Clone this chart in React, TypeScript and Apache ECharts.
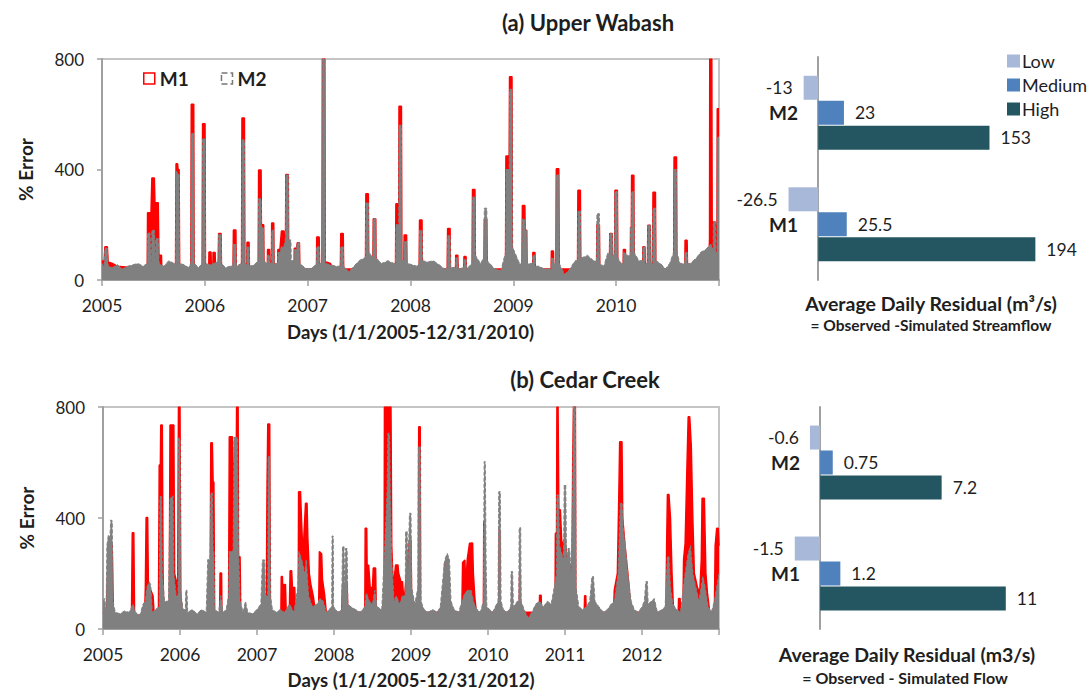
import React, { useEffect, useRef } from "react";
import * as echarts from "echarts";

// Daily % error, sampled as [decimal year, % error]
const wabashM1: [number, number][] = [
  [2005.0, 70], [2005.02, 65], [2005.028, 120], [2005.052, 120], [2005.06, 65], [2005.1, 60], [2005.15, 50], [2005.44, 40],
  [2005.443, 243], [2005.467, 243], [2005.47, 150], [2005.485, 369], [2005.509, 369], [2005.52, 200], [2005.523, 280], [2005.547, 280], [2005.555, 50],
  [2005.558, 90], [2005.578, 90], [2005.582, 40], [2005.715, 40], [2005.72, 421], [2005.735, 421], [2005.74, 400], [2005.75, 400], [2005.755, 40],
  [2005.864, 40], [2005.868, 636], [2005.892, 636], [2005.896, 40],
  [2005.974, 40], [2005.978, 566], [2006.002, 566], [2006.006, 40],
  [2006.038, 40], [2006.04, 101], [2006.06, 101], [2006.064, 40], [2006.078, 40], [2006.08, 100], [2006.1, 100], [2006.104, 40],
  [2006.13, 40], [2006.134, 168], [2006.158, 168], [2006.162, 40],
  [2006.274, 40], [2006.278, 181], [2006.302, 181], [2006.306, 40],
  [2006.357, 40], [2006.361, 586], [2006.385, 586], [2006.389, 40], [2006.408, 40], [2006.41, 137], [2006.43, 137], [2006.434, 40],
  [2006.519, 40], [2006.523, 398], [2006.547, 398], [2006.55, 200], [2006.572, 200], [2006.576, 40],
  [2006.608, 40], [2006.61, 110], [2006.63, 110], [2006.634, 40], [2006.648, 40], [2006.65, 206], [2006.67, 206], [2006.674, 40],
  [2006.708, 40], [2006.71, 110], [2006.73, 110], [2006.745, 177], [2006.769, 177], [2006.784, 100], [2006.788, 382], [2006.812, 382], [2006.815, 100], [2006.841, 40],
  [2006.868, 40], [2006.87, 115], [2006.89, 115], [2006.9, 135], [2006.92, 135], [2006.924, 40],
  [2007.086, 40], [2007.088, 156], [2007.112, 156], [2007.116, 40], [2007.139, 40], [2007.143, 800], [2007.167, 800], [2007.171, 40],
  [2007.18, 65], [2007.22, 60], [2007.25, 40], [2007.318, 40], [2007.322, 168], [2007.346, 168], [2007.35, 40],
  [2007.562, 40], [2007.566, 312], [2007.59, 312], [2007.594, 40], [2007.634, 40], [2007.638, 222], [2007.662, 222], [2007.666, 40],
  [2007.854, 40], [2007.858, 276], [2007.886, 276], [2007.888, 629], [2007.912, 629], [2007.916, 40],
  [2007.934, 40], [2007.938, 163], [2007.962, 163], [2007.966, 40], [2008.084, 40], [2008.088, 217], [2008.112, 217], [2008.116, 40],
  [2008.357, 40], [2008.361, 186], [2008.385, 186], [2008.389, 40], [2008.438, 40], [2008.44, 90], [2008.46, 90], [2008.464, 40],
  [2008.518, 40], [2008.52, 85], [2008.54, 85], [2008.544, 40], [2008.599, 40], [2008.603, 328], [2008.627, 328], [2008.631, 40],
  [2008.714, 40], [2008.718, 220], [2008.742, 220], [2008.746, 40],
  [2008.924, 40], [2008.928, 449], [2008.96, 449], [2008.963, 736], [2008.987, 736], [2008.991, 40],
  [2009.084, 40], [2009.088, 270], [2009.112, 270], [2009.115, 180], [2009.13, 180], [2009.134, 40],
  [2009.188, 40], [2009.19, 100], [2009.21, 100], [2009.214, 40], [2009.368, 40], [2009.37, 105], [2009.39, 105], [2009.394, 40],
  [2009.414, 40], [2009.418, 403], [2009.442, 403], [2009.446, 40], [2009.624, 40], [2009.628, 325], [2009.652, 325], [2009.656, 40],
  [2009.809, 40], [2009.813, 200], [2009.837, 200], [2009.841, 40],
  [2009.934, 40], [2009.938, 168], [2009.962, 168], [2009.966, 40], [2009.984, 40], [2009.988, 325], [2010.012, 325], [2010.016, 40],
  [2010.068, 40], [2010.07, 110], [2010.09, 110], [2010.094, 40], [2010.138, 40], [2010.14, 190], [2010.148, 190], [2010.15, 379], [2010.172, 379], [2010.176, 40],
  [2010.258, 40], [2010.26, 120], [2010.28, 120], [2010.284, 40], [2010.304, 40], [2010.308, 198], [2010.332, 198], [2010.336, 40],
  [2010.354, 40], [2010.358, 318], [2010.382, 318], [2010.386, 40], [2010.559, 40], [2010.563, 445], [2010.587, 445], [2010.591, 40],
  [2010.668, 40], [2010.67, 144], [2010.69, 144], [2010.694, 40], [2010.9, 60], [2010.908, 150], [2010.91, 800], [2010.93, 800], [2010.934, 150],
  [2010.945, 210], [2010.965, 210], [2010.969, 100], [2010.98, 100], [2010.983, 620], [2011.0, 620],
];

const wabashM2: [number, number][] = [
  [2005.0, 60], [2005.02, 45], [2005.028, 115], [2005.052, 115], [2005.06, 50], [2005.1, 45], [2005.15, 55], [2005.2, 40],
  [2005.25, 50], [2005.3, 55], [2005.35, 60], [2005.4, 50], [2005.44, 60],
  [2005.443, 170], [2005.467, 170], [2005.48, 60], [2005.485, 180], [2005.509, 180], [2005.52, 60], [2005.523, 150], [2005.547, 150], [2005.555, 60],
  [2005.6, 50], [2005.65, 70], [2005.7, 60], [2005.715, 60], [2005.72, 395], [2005.75, 380], [2005.755, 60],
  [2005.8, 55], [2005.84, 45], [2005.864, 60], [2005.868, 530], [2005.892, 530], [2005.896, 60],
  [2005.94, 45], [2005.974, 60], [2005.978, 511], [2006.002, 511], [2006.006, 60],
  [2006.05, 55], [2006.09, 60], [2006.13, 70], [2006.134, 165], [2006.158, 165], [2006.162, 60],
  [2006.2, 45], [2006.25, 50], [2006.274, 55], [2006.278, 130], [2006.302, 130], [2006.306, 50],
  [2006.357, 60], [2006.361, 507], [2006.385, 507], [2006.389, 60], [2006.408, 55], [2006.41, 120], [2006.43, 120], [2006.434, 50],
  [2006.48, 55], [2006.519, 70], [2006.523, 294], [2006.547, 294], [2006.55, 190], [2006.572, 190], [2006.576, 70],
  [2006.608, 60], [2006.61, 90], [2006.63, 90], [2006.634, 60], [2006.648, 60], [2006.65, 180], [2006.67, 180], [2006.674, 60],
  [2006.708, 60], [2006.71, 100], [2006.73, 100], [2006.745, 120], [2006.769, 120], [2006.784, 150], [2006.788, 380], [2006.812, 380], [2006.815, 145], [2006.837, 145], [2006.841, 70],
  [2006.868, 70], [2006.87, 110], [2006.89, 110], [2006.9, 135], [2006.92, 135], [2006.924, 60], [2006.97, 45], [2007.0, 40], [2007.05, 45],
  [2007.086, 60], [2007.088, 120], [2007.112, 120], [2007.116, 60], [2007.139, 60], [2007.143, 800], [2007.167, 800], [2007.171, 60],
  [2007.22, 55], [2007.28, 50], [2007.318, 50], [2007.322, 120], [2007.346, 120], [2007.35, 50], [2007.4, 30], [2007.45, 50], [2007.5, 70], [2007.55, 80],
  [2007.562, 80], [2007.566, 280], [2007.59, 280], [2007.594, 100], [2007.62, 90], [2007.634, 80], [2007.638, 222], [2007.662, 222], [2007.666, 80],
  [2007.72, 60], [2007.78, 70], [2007.84, 60], [2007.854, 60], [2007.858, 200], [2007.886, 200], [2007.888, 560], [2007.912, 560], [2007.916, 70],
  [2007.934, 70], [2007.938, 140], [2007.962, 140], [2007.966, 60], [2008.02, 55], [2008.06, 50], [2008.084, 60], [2008.088, 180], [2008.112, 180], [2008.116, 70],
  [2008.17, 65], [2008.22, 70], [2008.28, 55], [2008.33, 40], [2008.357, 45], [2008.361, 160], [2008.385, 160], [2008.389, 45],
  [2008.438, 45], [2008.44, 80], [2008.46, 80], [2008.464, 40], [2008.518, 45], [2008.52, 75], [2008.54, 75], [2008.544, 40],
  [2008.599, 60], [2008.603, 300], [2008.627, 300], [2008.631, 90], [2008.68, 60], [2008.714, 80], [2008.718, 260], [2008.742, 260], [2008.746, 70],
  [2008.82, 40], [2008.88, 35], [2008.924, 100], [2008.928, 400], [2008.96, 400], [2008.963, 690], [2008.987, 690], [2008.991, 120],
  [2009.02, 95], [2009.06, 60], [2009.084, 60], [2009.088, 220], [2009.112, 220], [2009.115, 180], [2009.13, 180], [2009.134, 60],
  [2009.188, 60], [2009.19, 90], [2009.21, 90], [2009.214, 50], [2009.25, 50], [2009.3, 40], [2009.35, 40], [2009.368, 40], [2009.37, 80], [2009.39, 80], [2009.394, 60],
  [2009.414, 60], [2009.418, 380], [2009.442, 380], [2009.446, 60], [2009.5, 20], [2009.55, 40], [2009.6, 70], [2009.624, 70], [2009.628, 250], [2009.652, 250], [2009.656, 80],
  [2009.7, 85], [2009.72, 90], [2009.78, 70], [2009.809, 70], [2009.813, 240], [2009.837, 240], [2009.841, 60], [2009.88, 50],
  [2009.92, 100], [2009.934, 90], [2009.938, 168], [2009.962, 168], [2009.966, 90], [2009.984, 90], [2009.988, 320], [2010.012, 320], [2010.016, 80],
  [2010.05, 60], [2010.068, 60], [2010.07, 100], [2010.09, 100], [2010.094, 90], [2010.12, 90], [2010.138, 90], [2010.14, 190], [2010.148, 190], [2010.15, 320], [2010.172, 320], [2010.176, 100],
  [2010.22, 70], [2010.258, 70], [2010.26, 120], [2010.28, 120], [2010.284, 60], [2010.304, 60], [2010.308, 198], [2010.332, 198], [2010.336, 60],
  [2010.354, 60], [2010.358, 260], [2010.382, 260], [2010.386, 70], [2010.43, 60], [2010.48, 40], [2010.52, 60], [2010.559, 100], [2010.563, 400], [2010.587, 400], [2010.591, 100],
  [2010.62, 60], [2010.668, 60], [2010.67, 100], [2010.69, 100], [2010.694, 60], [2010.72, 60], [2010.78, 80], [2010.82, 100], [2010.87, 110], [2010.92, 130],
  [2010.943, 110], [2010.945, 210], [2010.965, 210], [2010.969, 100], [2010.98, 100], [2010.983, 518], [2011.0, 518],
];

const cedarM1: [number, number][] = [
  [2005.0, 60], [2005.04, 50], [2005.06, 200], [2005.09, 310], [2005.12, 300], [2005.135, 50], [2005.37, 50], [2005.38, 347], [2005.4, 347], [2005.41, 50],
  [2005.54, 50], [2005.55, 150], [2005.56, 402], [2005.58, 402], [2005.59, 150], [2005.62, 140], [2005.65, 120], [2005.665, 50],
  [2005.72, 50], [2005.73, 591], [2005.745, 591], [2005.75, 735], [2005.77, 735], [2005.78, 200], [2005.79, 50],
  [2005.86, 50], [2005.87, 735], [2005.92, 735], [2005.93, 200], [2005.97, 150], [2005.98, 800], [2006.0, 800], [2006.01, 130], [2006.03, 50],
  [2006.39, 50], [2006.4, 671], [2006.42, 671], [2006.43, 530], [2006.44, 530], [2006.45, 50],
  [2006.515, 50], [2006.52, 202], [2006.54, 202], [2006.545, 50],
  [2006.63, 50], [2006.64, 693], [2006.68, 693], [2006.69, 600], [2006.73, 600], [2006.735, 800], [2006.755, 800], [2006.76, 260], [2006.78, 260], [2006.79, 50],
  [2007.12, 50], [2007.13, 500], [2007.14, 739], [2007.165, 739], [2007.175, 50],
  [2007.31, 50], [2007.315, 189], [2007.33, 189], [2007.34, 100], [2007.35, 160], [2007.37, 160], [2007.38, 50], [2007.42, 60], [2007.43, 210], [2007.45, 210], [2007.46, 150], [2007.49, 150], [2007.5, 60],
  [2007.535, 60], [2007.54, 495], [2007.565, 495], [2007.58, 380], [2007.6, 250], [2007.61, 340], [2007.63, 453], [2007.65, 453], [2007.66, 330], [2007.68, 200], [2007.7, 160], [2007.73, 120], [2007.76, 60],
  [2007.8, 60], [2007.81, 279], [2007.84, 270], [2007.85, 180], [2007.88, 120], [2007.9, 60],
  [2008.1, 60], [2008.11, 160], [2008.17, 160], [2008.18, 60],
  [2008.4, 60], [2008.405, 363], [2008.425, 363], [2008.43, 230], [2008.45, 230], [2008.47, 150], [2008.5, 150], [2008.51, 220], [2008.54, 220], [2008.55, 60],
  [2008.65, 60], [2008.655, 800], [2008.74, 800], [2008.75, 300], [2008.77, 150], [2008.8, 231], [2008.83, 231], [2008.84, 200], [2008.87, 170], [2008.89, 170], [2008.9, 130], [2008.92, 130], [2008.98, 321], [2009.0, 321], [2009.01, 60],
  [2009.095, 60], [2009.1, 729], [2009.12, 729], [2009.125, 60],
  [2009.43, 60], [2009.435, 237], [2009.46, 237], [2009.47, 60],
  [2009.66, 60], [2009.67, 240], [2009.7, 249], [2009.71, 150], [2009.73, 250], [2009.76, 309], [2009.8, 310], [2009.81, 200], [2009.83, 110], [2009.85, 60],
  [2009.94, 60], [2009.945, 387], [2009.955, 387], [2009.96, 60],
  [2010.14, 60], [2010.145, 357], [2010.155, 357], [2010.16, 60],
  [2010.405, 60], [2010.41, 200], [2010.42, 200], [2010.425, 60],
  [2010.665, 60], [2010.67, 122], [2010.69, 122], [2010.695, 60],
  [2010.87, 60], [2010.875, 345], [2010.89, 345], [2010.895, 800], [2010.91, 800], [2010.92, 430], [2010.94, 430], [2010.96, 300], [2011.0, 330], [2011.04, 200], [2011.06, 230], [2011.08, 230], [2011.09, 180],
  [2011.1, 600], [2011.11, 800], [2011.135, 800], [2011.14, 150], [2011.16, 60],
  [2011.25, 60], [2011.255, 120], [2011.27, 120], [2011.275, 60],
  [2011.63, 60], [2011.64, 140], [2011.68, 200], [2011.7, 500], [2011.71, 675], [2011.74, 675], [2011.75, 400], [2011.78, 300], [2011.82, 190], [2011.86, 60],
  [2012.31, 60], [2012.32, 300], [2012.33, 485], [2012.35, 485], [2012.37, 400], [2012.39, 200], [2012.41, 60],
  [2012.47, 60], [2012.475, 110], [2012.495, 110], [2012.5, 60],
  [2012.53, 60], [2012.54, 250], [2012.56, 309], [2012.585, 600], [2012.6, 765], [2012.62, 765], [2012.64, 660], [2012.66, 400], [2012.68, 200], [2012.72, 150], [2012.75, 130],
  [2012.77, 250], [2012.78, 471], [2012.81, 471], [2012.83, 200], [2012.85, 130], [2012.88, 60],
  [2012.94, 60], [2012.95, 300], [2012.97, 363], [2012.99, 363], [2013.0, 300],
];

const cedarM2: [number, number][] = [
  [2005.0, 100], [2005.02, 110], [2005.04, 60], [2005.05, 300], [2005.07, 340], [2005.09, 330], [2005.1, 393], [2005.12, 390], [2005.13, 100],
  [2005.16, 60], [2005.22, 55], [2005.28, 65], [2005.34, 60], [2005.39, 90], [2005.42, 60], [2005.48, 50], [2005.52, 90], [2005.55, 100],
  [2005.57, 150], [2005.6, 170], [2005.62, 160], [2005.64, 60], [2005.68, 70], [2005.73, 80], [2005.74, 477], [2005.76, 477], [2005.77, 200],
  [2005.8, 100], [2005.85, 100], [2005.87, 470], [2005.91, 480], [2005.92, 200], [2005.95, 120], [2005.975, 120], [2005.98, 687], [2006.0, 687],
  [2006.01, 130], [2006.04, 70], [2006.07, 70], [2006.075, 140], [2006.09, 140], [2006.1, 60], [2006.16, 70], [2006.22, 55], [2006.28, 70],
  [2006.34, 60], [2006.36, 250], [2006.39, 250], [2006.4, 490], [2006.42, 490], [2006.43, 280], [2006.44, 280], [2006.45, 70], [2006.5, 60],
  [2006.53, 120], [2006.56, 60], [2006.6, 70], [2006.63, 120], [2006.64, 280], [2006.69, 280], [2006.7, 690], [2006.745, 690], [2006.76, 300],
  [2006.78, 100], [2006.82, 60], [2006.85, 100], [2006.88, 60], [2006.94, 55], [2007.0, 70], [2007.05, 90], [2007.07, 249], [2007.1, 249],
  [2007.11, 120], [2007.14, 120], [2007.145, 621], [2007.165, 621], [2007.175, 120], [2007.2, 70], [2007.25, 60], [2007.3, 70], [2007.36, 60],
  [2007.42, 90], [2007.48, 60], [2007.53, 150], [2007.545, 279], [2007.58, 250], [2007.62, 200], [2007.64, 250], [2007.67, 120], [2007.72, 80],
  [2007.78, 90], [2007.82, 110], [2007.86, 100], [2007.9, 60], [2007.97, 80], [2007.975, 335], [2007.99, 335], [2007.995, 80], [2008.05, 60],
  [2008.1, 70], [2008.11, 297], [2008.13, 297], [2008.14, 150], [2008.15, 290], [2008.17, 290], [2008.18, 90], [2008.22, 80], [2008.28, 70],
  [2008.34, 60], [2008.4, 80], [2008.42, 130], [2008.46, 100], [2008.5, 90], [2008.53, 140], [2008.56, 80], [2008.62, 70], [2008.66, 300],
  [2008.69, 500], [2008.7, 705], [2008.72, 705], [2008.73, 500], [2008.75, 250], [2008.78, 100], [2008.81, 120], [2008.85, 90], [2008.89, 120],
  [2008.925, 120], [2008.93, 351], [2008.95, 351], [2008.96, 200], [2008.98, 417], [2009.0, 417], [2009.01, 150], [2009.05, 90], [2009.09, 150],
  [2009.095, 657], [2009.12, 657], [2009.13, 100], [2009.17, 70], [2009.22, 60], [2009.28, 70], [2009.34, 60], [2009.38, 80], [2009.42, 200],
  [2009.44, 250], [2009.47, 273], [2009.5, 250], [2009.52, 100], [2009.56, 70], [2009.62, 60], [2009.66, 100], [2009.7, 130], [2009.74, 140],
  [2009.78, 140], [2009.82, 90], [2009.86, 70], [2009.9, 60], [2009.94, 100], [2009.95, 603], [2009.965, 603], [2009.975, 250], [2009.985, 80],
  [2010.06, 60], [2010.13, 100], [2010.14, 495], [2010.16, 495], [2010.17, 100], [2010.2, 70], [2010.25, 60], [2010.295, 80], [2010.3, 207],
  [2010.32, 207], [2010.33, 80], [2010.38, 100], [2010.4, 100], [2010.405, 365], [2010.425, 365], [2010.43, 100], [2010.47, 70], [2010.52, 40],
  [2010.57, 60], [2010.62, 90], [2010.67, 100], [2010.72, 80], [2010.77, 100], [2010.82, 90], [2010.86, 150], [2010.89, 200], [2010.895, 483],
  [2010.915, 483], [2010.93, 300], [2010.98, 250], [2010.99, 519], [2011.01, 519], [2011.02, 250], [2011.04, 290], [2011.06, 290], [2011.08, 200],
  [2011.1, 500], [2011.11, 800], [2011.135, 800], [2011.145, 150], [2011.18, 80], [2011.23, 70], [2011.28, 80], [2011.32, 100], [2011.35, 189],
  [2011.37, 189], [2011.39, 100], [2011.44, 80], [2011.5, 60], [2011.55, 70], [2011.6, 90], [2011.64, 100], [2011.69, 200], [2011.72, 454],
  [2011.74, 454], [2011.76, 350], [2011.78, 309], [2011.82, 190], [2011.86, 100], [2011.9, 70], [2011.95, 60], [2012.0, 80], [2012.03, 100],
  [2012.05, 171], [2012.07, 171], [2012.08, 90], [2012.12, 100], [2012.16, 110], [2012.2, 60], [2012.26, 70], [2012.3, 80], [2012.33, 261],
  [2012.35, 261], [2012.37, 150], [2012.4, 90], [2012.45, 70], [2012.5, 60], [2012.55, 180], [2012.6, 273], [2012.63, 300], [2012.66, 200],
  [2012.7, 150], [2012.74, 100], [2012.79, 190], [2012.82, 150], [2012.86, 80], [2012.9, 60], [2012.94, 100], [2012.98, 166], [2013.0, 200],
];

// Average daily residual by flow regime
const models = ["M1", "M2"];
const wabashLow = [-26.5, -13];
const wabashMedium = [25.5, 23];
const wabashHigh = [194, 153];
const cedarLow = [-1.5, -0.6];
const cedarMedium = [1.2, 0.75];
const cedarHigh = [11, 7.2];

const FONT = "Lato, 'Open Sans', sans-serif";
const TEXT = "#1e1e1e";
const AXIS = "#a0a0a0";
const RED = "#ff0000";
const GRAY = "#808080";
const LOW = "#a8b8d8";
const MEDIUM = "#4f81bd";
const HIGH = "#235661";

function tsXAxis(grid: number, min: number, max: number, name: string, gap: number) {
  return {
    type: "value",
    gridIndex: grid,
    min,
    max,
    interval: 1,
    axisLine: { show: true, onZero: false, lineStyle: { color: AXIS, width: 2 } },
    axisTick: { show: true, length: 6, lineStyle: { color: AXIS, width: 1.5 } },
    axisLabel: {
      formatter: (v: number) => (v >= max ? "" : String(v)),
      fontSize: 17.5,
      color: TEXT,
      fontFamily: FONT,
      margin: 16,
    },
    splitLine: { show: false },
    name,
    nameLocation: "middle",
    nameGap: gap,
    nameTextStyle: { fontSize: 18.5, fontWeight: "bold", color: TEXT, fontFamily: FONT },
  };
}

function tsYAxis(grid: number) {
  return {
    type: "value",
    gridIndex: grid,
    min: 0,
    max: 800,
    interval: 400,
    axisLine: { show: true, lineStyle: { color: AXIS, width: 2 } },
    axisTick: { show: true, length: 5, lineStyle: { color: AXIS, width: 1.5 } },
    axisLabel: { fontSize: 17, color: TEXT, fontFamily: FONT, margin: 18 },
    splitLine: { show: false },
    name: "% Error",
    nameLocation: "middle",
    nameGap: 67,
    nameTextStyle: { fontSize: 19, fontWeight: "bold", color: TEXT, fontFamily: FONT },
  };
}

function barXAxis(grid: number, min: number, max: number) {
  return { type: "value", gridIndex: grid, min, max, show: false, splitLine: { show: false } };
}

function barYAxis(grid: number, labelMargin: number) {
  return {
    type: "category",
    gridIndex: grid,
    data: models,
    axisLine: { show: true, onZero: true, lineStyle: { color: AXIS, width: 2 } },
    axisTick: { show: false },
    axisLabel: { fontSize: 19, fontWeight: "bold", color: TEXT, fontFamily: FONT, margin: labelMargin },
  };
}

function lineSeries(name: string, data: [number, number][], grid: number) {
  const isM1 = name === "M1";
  const color = isM1 ? RED : GRAY;
  return {
    name,
    type: "line",
    xAxisIndex: grid,
    yAxisIndex: grid,
    data,
    showSymbol: false,
    symbol: "none",
    z: isM1 ? 2 : 3,
    color,
    lineStyle: { color, width: isM1 ? 1.5 : 1, type: isM1 ? "solid" : "dashed" },
    areaStyle: { color, opacity: 1 },
  };
}

function barSeries(name: string, data: number[], grid: number, color: string, pos: string) {
  return {
    name,
    type: "bar",
    xAxisIndex: grid,
    yAxisIndex: grid,
    data,
    barWidth: 24,
    barGap: "4%",
    color,
    itemStyle: { color },
    label: {
      show: true,
      position: pos,
      distance: 11,
      fontSize: 17.5,
      color: TEXT,
      fontFamily: FONT,
      formatter: (p: any) => String(p.value),
    },
  };
}

function text(str: string, x: number, y: number, size: number, bold = true) {
  return {
    type: "text",
    x,
    y,
    style: {
      text: str,
      fill: TEXT,
      font: `${bold ? "bold " : ""}${size}px ${FONT}`,
      align: "center",
      verticalAlign: "middle",
      textAlign: "center",
      textVerticalAlign: "middle",
    },
  };
}

export default function App() {
  const ref = useRef<HTMLDivElement>(null);

  useEffect(() => {
    if (!ref.current) return;
    const chart = echarts.init(ref.current, undefined, { renderer: "svg" });
    chart.setOption({
      animation: false,
      backgroundColor: "#ffffff",
      grid: [
        { left: 102, top: 59, width: 617, height: 221, show: true, borderColor: "#c4c4c4", borderWidth: 2 },
        { left: 760, top: 57, width: 300, height: 223 },
        { left: 103, top: 407, width: 616, height: 222, show: true, borderColor: "#c4c4c4", borderWidth: 2 },
        { left: 761, top: 407, width: 287, height: 222 },
      ],
      xAxis: [
        tsXAxis(0, 2005, 2011, "Days (1/1/2005-12/31/2010)", 42),
        barXAxis(1, -52, 216),
        tsXAxis(2, 2005, 2013, "Days (1/1/2005-12/31/2012)", 41),
        barXAxis(3, -3.5, 13.5),
      ],
      yAxis: [tsYAxis(0), barYAxis(1, -38), tsYAxis(2), barYAxis(3, -39)],
      legend: [
        {
          left: 138,
          top: 64,
          itemWidth: 11,
          itemHeight: 11,
          itemGap: 32,
          selectedMode: false,
          textStyle: { fontSize: 19, fontWeight: "bold", color: TEXT, fontFamily: FONT },
          data: [
            { name: "M1", icon: "rect", itemStyle: { color: "#ffffff", borderColor: RED, borderWidth: 1.5 } },
            {
              name: "M2",
              icon: "rect",
              itemStyle: { color: "#ffffff", borderColor: "#777777", borderWidth: 1.5, borderType: "dashed" },
            },
          ],
        },
        {
          left: 1002,
          top: 46,
          orient: "vertical",
          itemWidth: 13,
          itemHeight: 13,
          itemGap: 4,
          selectedMode: false,
          textStyle: { fontSize: 18, color: TEXT, fontFamily: FONT, lineHeight: 20, padding: [0, 0, 0, -3] },
          data: [
            { name: "Low", icon: "rect" },
            { name: "Medium", icon: "rect" },
            { name: "High", icon: "rect" },
          ],
        },
      ],
      graphic: [
        text("(a) Upper Wabash", 588, 22, 22),
        text("(b) Cedar Creek", 585, 379, 22),
        text("Average Daily Residual (m\u00b3/s)", 931, 303, 19.5),
        text("= Observed -Simulated Streamflow", 931, 325, 15.5),
        text("Average Daily Residual (m3/s)", 907, 654, 19.5),
        text("= Observed - Simulated Flow", 905, 677, 16),
      ],
      series: [
        lineSeries("M1", wabashM1, 0),
        lineSeries("M2", wabashM2, 0),
        lineSeries("M1", cedarM1, 2),
        lineSeries("M2", cedarM2, 2),
        barSeries("Low", wabashLow, 1, LOW, "left"),
        barSeries("Medium", wabashMedium, 1, MEDIUM, "right"),
        barSeries("High", wabashHigh, 1, HIGH, "right"),
        barSeries("Low", cedarLow, 3, LOW, "left"),
        barSeries("Medium", cedarMedium, 3, MEDIUM, "right"),
        barSeries("High", cedarHigh, 3, HIGH, "right"),
      ],
    });
    return () => chart.dispose();
  }, []);

  return (
    <div
      ref={ref}
      style={{ position: "absolute", left: 0, top: 0, width: 1089, height: 692, background: "#fff" }}
    />
  );
}
